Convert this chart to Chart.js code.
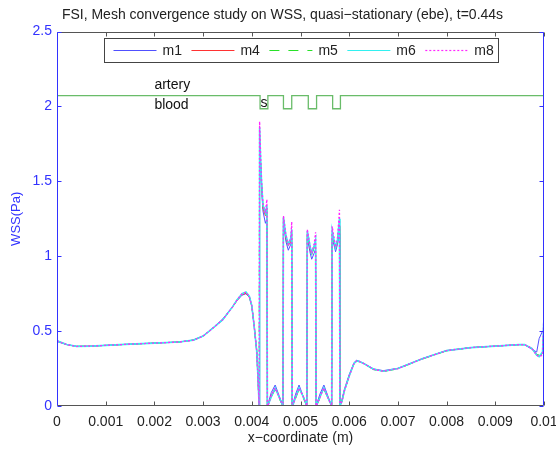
<!DOCTYPE html>
<html lang="en">
<head>
  <meta charset="UTF-8" />
  <title>FSI - WSS mesh convergence</title>
  <script src="https://cdn.jsdelivr.net/npm/chart.js"></script>
  <style>
    html, body { margin: 0; padding: 0; background: #fff; }
  </style>
</head>
<body>
  <canvas id="wssChart" width="556" height="449"></canvas>
  <script>
    // x-coordinate (m) of the sampled wall points
    const xCoord = [
      0, 0.0002, 0.0004, 0.0007, 0.001, 0.0015, 0.002, 0.0025, 0.0028, 0.003, 0.0032,
      0.0034, 0.0036, 0.0037, 0.0038, 0.00388, 0.00395, 0.004, 0.00405, 0.0041, 0.00413, 0.00415,
      0.00416, 0.00418, 0.0042, 0.00423, 0.00428, 0.00431, 0.00432,
      0.00434, 0.0044, 0.00448, 0.00456, 0.00464,
      0.00465, 0.0047, 0.00475, 0.0048, 0.00482, 0.00483,
      0.00485, 0.0049, 0.00497, 0.00506, 0.00513,
      0.00514, 0.0052, 0.00523, 0.00528, 0.00531, 0.00532,
      0.00534, 0.0054, 0.00548, 0.00557, 0.00564,
      0.00565, 0.0057, 0.00572, 0.00576, 0.0058, 0.00581,
      0.00585, 0.0059, 0.006, 0.0061, 0.00615, 0.0062, 0.0063, 0.0065, 0.0067, 0.007,
      0.0075, 0.008, 0.0085, 0.009, 0.0095, 0.0096, 0.00975, 0.00985, 0.0099, 0.00997, 0.01
    ];

    // WSS (Pa) per mesh
    const wssM1 = [
      0.43, 0.41, 0.398, 0.40, 0.405, 0.413, 0.42, 0.427, 0.44, 0.467, 0.52,
      0.58, 0.66, 0.705, 0.74, 0.75, 0.725, 0.665, 0.53, 0.37, 0.17, 0.0,
      1.75, 1.58, 1.45, 1.3, 1.22, 1.25, 0,
      0.02, 0.09, 0.14, 0.07, 0,
      1.22, 1.1, 1.04, 1.08, 1.12, 0,
      0.02, 0.08, 0.14, 0.06, 0,
      1.12, 1.02, 0.98, 1.02, 1.05, 0,
      0.02, 0.08, 0.14, 0.06, 0,
      1.12, 1.06, 1.03, 1.08, 1.15, 0,
      0.04, 0.11, 0.21, 0.29, 0.305, 0.3, 0.285, 0.248, 0.236, 0.252,
      0.316, 0.37, 0.39, 0.4, 0.41, 0.408, 0.38, 0.36, 0.45, 0.5, 0.5
    ];
    const wssM4 = [
      0.435, 0.41, 0.398, 0.40, 0.405, 0.413, 0.42, 0.427, 0.44, 0.467, 0.52,
      0.575, 0.66, 0.705, 0.745, 0.752, 0.728, 0.668, 0.53, 0.37, 0.16, 0.0,
      1.8, 1.62, 1.48, 1.32, 1.27, 1.3, 0,
      0.01, 0.07, 0.12, 0.06, 0,
      1.25, 1.12, 1.07, 1.1, 1.15, 0,
      0.01, 0.06, 0.12, 0.06, 0,
      1.15, 1.04, 1.01, 1.06, 1.08, 0,
      0.01, 0.06, 0.12, 0.05, 0,
      1.14, 1.08, 1.05, 1.1, 1.2, 0,
      0.03, 0.1, 0.2, 0.285, 0.3, 0.297, 0.283, 0.245, 0.232, 0.25,
      0.315, 0.37, 0.39, 0.4, 0.41, 0.41, 0.385, 0.34, 0.33, 0.35, 0.55
    ];
    const wssM5 = [
      0.435, 0.41, 0.398, 0.40, 0.405, 0.413, 0.42, 0.427, 0.44, 0.467, 0.52,
      0.575, 0.66, 0.71, 0.75, 0.758, 0.73, 0.67, 0.53, 0.37, 0.16, 0.0,
      1.82, 1.64, 1.49, 1.33, 1.28, 1.32, 0,
      0.01, 0.06, 0.11, 0.05, 0,
      1.25, 1.13, 1.07, 1.11, 1.16, 0,
      0.01, 0.05, 0.11, 0.05, 0,
      1.16, 1.05, 1.01, 1.06, 1.09, 0,
      0.01, 0.05, 0.11, 0.05, 0,
      1.15, 1.08, 1.05, 1.1, 1.22, 0,
      0.03, 0.1, 0.2, 0.283, 0.298, 0.296, 0.282, 0.243, 0.23, 0.248,
      0.313, 0.368, 0.39, 0.4, 0.41, 0.41, 0.385, 0.345, 0.34, 0.35, 0.56
    ];
    const wssM6 = [
      0.435, 0.41, 0.398, 0.40, 0.405, 0.413, 0.42, 0.427, 0.44, 0.467, 0.52,
      0.575, 0.66, 0.71, 0.75, 0.762, 0.732, 0.67, 0.53, 0.37, 0.17, 0.0,
      1.86, 1.66, 1.5, 1.34, 1.29, 1.34, 0,
      0.01, 0.06, 0.12, 0.06, 0,
      1.26, 1.14, 1.08, 1.12, 1.18, 0,
      0.01, 0.06, 0.12, 0.06, 0,
      1.17, 1.06, 1.02, 1.07, 1.11, 0,
      0.01, 0.06, 0.12, 0.05, 0,
      1.17, 1.09, 1.06, 1.11, 1.25, 0,
      0.03, 0.1, 0.2, 0.285, 0.3, 0.298, 0.283, 0.245, 0.232, 0.25,
      0.315, 0.37, 0.39, 0.4, 0.41, 0.41, 0.385, 0.34, 0.33, 0.36, 0.6
    ];
    const wssM8 = [
      0.435, 0.41, 0.398, 0.40, 0.405, 0.413, 0.42, 0.427, 0.44, 0.467, 0.52,
      0.575, 0.66, 0.71, 0.75, 0.76, 0.73, 0.67, 0.53, 0.37, 0.17, 0.0,
      1.9, 1.68, 1.5, 1.34, 1.29, 1.38, 0,
      0.01, 0.07, 0.12, 0.06, 0,
      1.27, 1.14, 1.08, 1.12, 1.23, 0,
      0.01, 0.06, 0.12, 0.06, 0,
      1.18, 1.06, 1.02, 1.08, 1.16, 0,
      0.01, 0.06, 0.12, 0.05, 0,
      1.2, 1.1, 1.06, 1.12, 1.31, 0,
      0.03, 0.1, 0.2, 0.285, 0.3, 0.298, 0.283, 0.245, 0.232, 0.25,
      0.315, 0.37, 0.39, 0.4, 0.41, 0.41, 0.385, 0.34, 0.33, 0.34, 0.64
    ];

    // artery / blood interface marker (stent struts as notches)
    const layerX = [0, 0.00417, 0.00417, 0.00433, 0.00433, 0.00465, 0.00465, 0.00482, 0.00482,
      0.00516, 0.00516, 0.00533, 0.00533, 0.00566, 0.00566, 0.00582, 0.00582, 0.01];
    const layerY = [2.073, 2.073, 1.985, 1.985, 2.073, 2.073, 1.985, 1.985, 2.073,
      2.073, 1.985, 1.985, 2.073, 2.073, 1.985, 1.985, 2.073, 2.073];

    const layerLabels = [
      { text: 'artery', x: 0.002, y: 2.14 },
      { text: 'blood', x: 0.002, y: 2.007 },
      { text: 's', x: 0.00418, y: 2.022 }
    ];

    const FONT = '"Liberation Sans", Arial, Helvetica, sans-serif';
    const AXIS_BLUE = 'rgb(50,50,255)';

    const meshes = [
      { label: 'm1', values: wssM1, color: 'rgb(80,80,255)', dash: [], width: 1 },
      { label: 'm4', values: wssM4, color: 'rgb(255,50,50)', dash: [], width: 1 },
      { label: 'm5', values: wssM5, color: 'rgb(40,225,40)', dash: [10, 9], width: 1 },
      { label: 'm6', values: wssM6, color: 'rgb(50,240,240)', dash: [], width: 1.6 },
      { label: 'm8', values: wssM8, color: 'rgb(255,40,255)', dash: [2, 2], width: 1.3 }
    ];

    // m8 on top, m1 at the bottom
    const datasets = meshes.map((m, i) => ({
      label: m.label,
      data: xCoord.map((x, j) => ({ x: x, y: m.values[j] })),
      borderColor: m.color,
      backgroundColor: m.color,
      borderWidth: m.width,
      borderDash: m.dash,
      pointRadius: 0,
      fill: false,
      order: meshes.length - i
    }));
    datasets.push({
      label: 'layer',
      data: layerX.map((x, i) => ({ x: x, y: layerY[i] })),
      borderColor: 'rgb(105,188,105)',
      borderWidth: 1.3,
      pointRadius: 0,
      fill: false,
      order: 10
    });

    // axes frame with inward tick marks (matlab style)
    const framePlugin = {
      id: 'frame',
      afterDatasetsDraw(chart) {
        const { ctx, chartArea: a, scales } = chart;
        const L = Math.round(a.left) + 0.5, R = Math.round(a.right) - 0.5;
        const T = Math.round(a.top) + 0.5, B = Math.round(a.bottom) - 0.5;
        ctx.save();
        ctx.lineWidth = 1;
        ctx.strokeStyle = '#555';
        ctx.beginPath();
        ctx.moveTo(L, T); ctx.lineTo(R, T);
        ctx.moveTo(L, B); ctx.lineTo(R, B);
        scales.x.ticks.forEach(t => {
          const px = Math.round(scales.x.getPixelForValue(t.value)) + 0.5;
          ctx.moveTo(px, B); ctx.lineTo(px, B - 4);
          ctx.moveTo(px, T); ctx.lineTo(px, T + 4);
        });
        ctx.stroke();
        ctx.strokeStyle = AXIS_BLUE;
        ctx.beginPath();
        ctx.moveTo(L, T); ctx.lineTo(L, B);
        ctx.moveTo(R, T); ctx.lineTo(R, B);
        scales.y.ticks.forEach(t => {
          const py = Math.round(scales.y.getPixelForValue(t.value)) + 0.5;
          ctx.moveTo(L, py); ctx.lineTo(L + 4, py);
          ctx.moveTo(R, py); ctx.lineTo(R - 4, py);
        });
        ctx.stroke();
        ctx.restore();
      }
    };

    const labelPlugin = {
      id: 'layerLabels',
      afterDatasetsDraw(chart) {
        const { ctx, scales } = chart;
        ctx.save();
        ctx.font = '14px ' + FONT;
        ctx.fillStyle = '#111';
        ctx.textAlign = 'left';
        ctx.textBaseline = 'middle';
        layerLabels.forEach(l => {
          ctx.fillText(l.text, scales.x.getPixelForValue(l.x), scales.y.getPixelForValue(l.y));
        });
        ctx.restore();
      }
    };

    // legend in a box inside the plot, one row, matlab style
    const boxLegendPlugin = {
      id: 'boxLegend',
      afterDraw(chart) {
        const { ctx, chartArea: a } = chart;
        const lineLen = 43, gap = 6, spacing = 9.5, padL = 9, padR = 5;
        ctx.save();
        ctx.font = '14px ' + FONT;
        const widths = meshes.map(m => lineLen + gap + ctx.measureText(m.label).width);
        const inner = widths.reduce((s, w) => s + w, 0) + spacing * (meshes.length - 1);
        const boxW = Math.round(inner + padL + padR);
        const boxL = Math.round((a.left + a.right) / 2 - boxW / 2) + 0.5;
        const boxT = Math.round(a.top + 6) + 0.5;
        const cy = boxT + 12;
        ctx.fillStyle = '#fff';
        ctx.fillRect(boxL, boxT, boxW, 24);
        ctx.strokeStyle = '#444';
        ctx.lineWidth = 1;
        ctx.strokeRect(boxL, boxT, boxW, 24);
        let x = boxL + padL;
        meshes.forEach((m, i) => {
          ctx.strokeStyle = m.color;
          ctx.lineWidth = 1.2;
          ctx.setLineDash(m.dash);
          ctx.beginPath();
          ctx.moveTo(x, cy);
          ctx.lineTo(x + lineLen, cy);
          ctx.stroke();
          ctx.setLineDash([]);
          ctx.fillStyle = '#222';
          ctx.textAlign = 'left';
          ctx.textBaseline = 'middle';
          ctx.fillText(m.label, x + lineLen + gap, cy + 1);
          x += widths[i] + spacing;
        });
        ctx.restore();
      }
    };

    new Chart(document.getElementById('wssChart'), {
      type: 'line',
      data: { datasets: datasets },
      options: {
        responsive: false,
        animation: false,
        layout: { padding: { left: 9, right: 0, top: 0, bottom: 0 } },
        elements: { line: { tension: 0 }, point: { radius: 0 } },
        plugins: {
          title: {
            display: true,
            text: 'FSI, Mesh convergence study on WSS, quasi\u2212stationary (ebe), t=0.44s',
            color: '#222',
            font: { family: FONT, size: 14, weight: 'normal' },
            padding: { top: 7, bottom: 7.8 }
          },
          legend: { display: false },
          tooltip: { enabled: false }
        },
        scales: {
          x: {
            type: 'linear',
            min: 0,
            max: 0.01,
            grid: { display: false, drawTicks: false },
            border: { display: false },
            ticks: {
              stepSize: 0.001,
              autoSkip: false,
              maxRotation: 0,
              padding: 8,
              color: '#222',
              font: { family: FONT, size: 14 },
              callback: v => String(+v.toFixed(4))
            },
            title: {
              display: true,
              text: 'x\u2212coordinate (m)',
              color: '#222',
              font: { family: FONT, size: 14 },
              padding: { top: 0, bottom: 2 }
            },
            afterFit(s) { s.height = 43; s.paddingLeft = 0; s.paddingRight = 12; }
          },
          y: {
            min: 0,
            max: 2.5,
            grid: { display: false, drawTicks: false },
            border: { display: false },
            ticks: {
              stepSize: 0.5,
              padding: 5,
              color: AXIS_BLUE,
              font: { family: FONT, size: 14 },
              callback: v => String(+v.toFixed(2))
            },
            title: {
              display: true,
              text: 'WSS(Pa)',
              color: AXIS_BLUE,
              font: { family: FONT, size: 13 },
              padding: { top: 0, bottom: 0 }
            },
            afterFit(s) { s.width = 48; s.paddingTop = 0; s.paddingBottom = 0; }
          }
        }
      },
      plugins: [framePlugin, labelPlugin, boxLegendPlugin]
    });
  </script>
</body>
</html>
